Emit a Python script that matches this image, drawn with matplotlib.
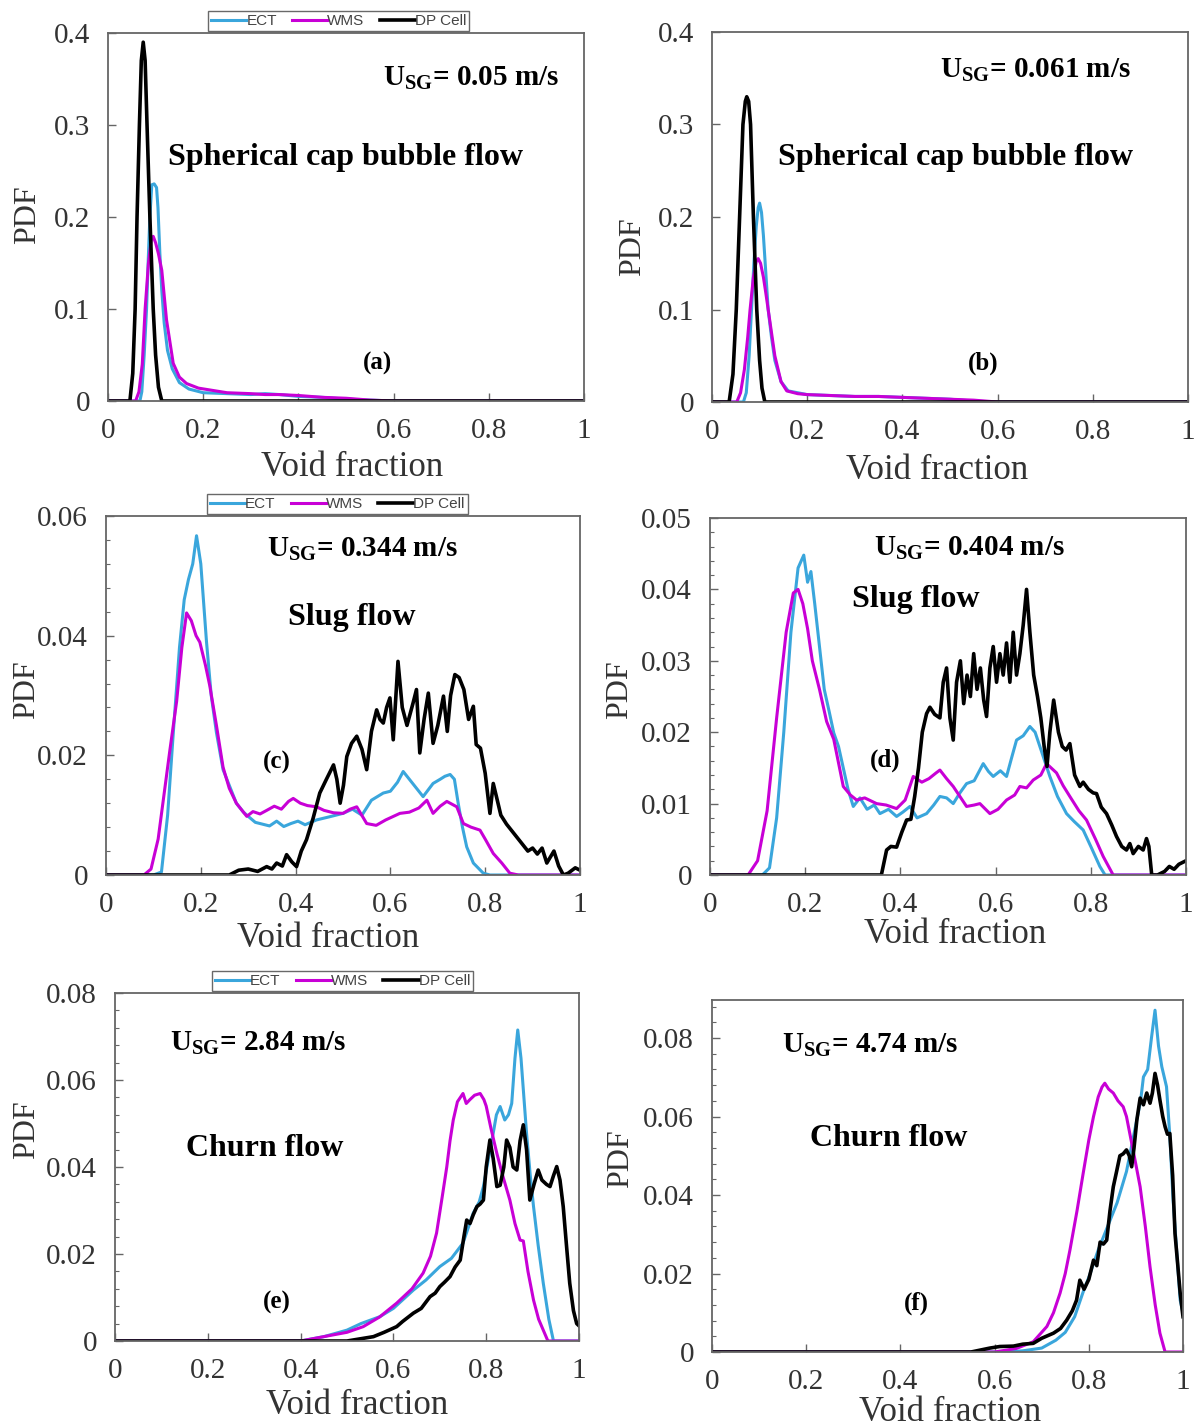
import numpy as np
import matplotlib
matplotlib.use('Agg')
import matplotlib.pyplot as plt
from matplotlib.ticker import MultipleLocator, FuncFormatter

plt.rcParams['font.family'] = ['Liberation Serif', 'DejaVu Serif']
plt.rcParams['mathtext.fontset'] = 'custom'
plt.rcParams['mathtext.rm'] = 'Liberation Serif'
plt.rcParams['mathtext.bf'] = 'Liberation Serif:bold'

# ---- data: void fraction (x) vs PDF (y) ----
series_names = ['ECT', 'WMS', 'DP Cell']
series_colors = ['#3aa6dc', '#c800d6', '#000000']

# (a) U_SG = 0.05 m/s
a_ect_x = [0, 0.067, 0.071, 0.076, 0.081, 0.085, 0.088, 0.092, 0.097, 0.102, 0.105, 0.109, 0.113, 0.118, 0.125, 0.135, 0.15, 0.17, 0.2, 0.25, 0.3, 0.33, 0.36, 0.4, 0.45, 0.5, 0.55, 0.6, 1.0]
a_ect_y = [0, 0, 0.01, 0.05, 0.1, 0.16, 0.2, 0.235, 0.236, 0.232, 0.21, 0.16, 0.12, 0.085, 0.055, 0.035, 0.02, 0.013, 0.009, 0.008, 0.007, 0.008, 0.007, 0.005, 0.004, 0.002, 0.001, 0, 0]
a_wms_x = [0, 0.058, 0.065, 0.072, 0.078, 0.085, 0.091, 0.095, 0.1, 0.106, 0.113, 0.123, 0.137, 0.15, 0.165, 0.19, 0.214, 0.25, 0.3, 0.33, 0.36, 0.4, 0.45, 0.5, 0.55, 0.6, 1.0]
a_wms_y = [0, 0, 0.01, 0.04, 0.1, 0.15, 0.175, 0.179, 0.172, 0.16, 0.142, 0.088, 0.041, 0.026, 0.019, 0.014, 0.012, 0.009, 0.008, 0.007, 0.007, 0.006, 0.004, 0.003, 0.001, 0, 0]
a_dp_x = [0, 0.046, 0.052, 0.057, 0.061, 0.066, 0.07, 0.074, 0.078, 0.082, 0.088, 0.095, 0.1, 0.106, 0.113, 1.0]
a_dp_y = [0, 0, 0.03, 0.1, 0.2, 0.3, 0.37, 0.39, 0.37, 0.3, 0.2, 0.1, 0.05, 0.015, 0, 0]

# (b) U_SG = 0.061 m/s
b_ect_x = [0, 0.066, 0.072, 0.078, 0.083, 0.088, 0.093, 0.097, 0.1, 0.104, 0.108, 0.113, 0.118, 0.125, 0.132, 0.145, 0.16, 0.2, 0.25, 0.3, 0.35, 0.4, 0.45, 0.5, 0.55, 0.6, 1.0]
b_ect_y = [0, 0, 0.01, 0.05, 0.1, 0.15, 0.19, 0.21, 0.215, 0.205, 0.18, 0.14, 0.1, 0.07, 0.045, 0.022, 0.012, 0.008, 0.007, 0.006, 0.006, 0.005, 0.004, 0.003, 0.001, 0, 1e-4]
b_wms_x = [0, 0.052, 0.06, 0.068, 0.075, 0.08, 0.087, 0.093, 0.097, 0.102, 0.108, 0.113, 0.118, 0.125, 0.132, 0.145, 0.157, 0.18, 0.2, 0.25, 0.3, 0.35, 0.4, 0.45, 0.5, 0.55, 0.6, 1.0]
b_wms_y = [0, 0, 0.01, 0.035, 0.07, 0.1, 0.135, 0.152, 0.155, 0.15, 0.135, 0.118, 0.1, 0.075, 0.05, 0.022, 0.012, 0.009, 0.008, 0.007, 0.006, 0.006, 0.005, 0.004, 0.003, 0.002, 0, 0]
b_dp_x = [0, 0.036, 0.044, 0.051, 0.058, 0.065, 0.07, 0.073, 0.077, 0.081, 0.087, 0.094, 0.1, 0.105, 0.111, 1.0]
b_dp_y = [0, 0, 0.03, 0.1, 0.2, 0.3, 0.325, 0.33, 0.325, 0.3, 0.2, 0.1, 0.045, 0.015, 0, 0]

# (c) U_SG = 0.344 m/s
c_ect_x = [0, 0.10, 0.117, 0.13, 0.142, 0.155, 0.165, 0.174, 0.183, 0.191, 0.2, 0.212, 0.222, 0.233, 0.247, 0.26, 0.275, 0.29, 0.30, 0.315, 0.33, 0.345, 0.36, 0.375, 0.39, 0.405, 0.42, 0.444, 0.47, 0.50, 0.52, 0.54, 0.56, 0.585, 0.60, 0.615, 0.627, 0.64, 0.655, 0.669, 0.69, 0.705, 0.715, 0.726, 0.735, 0.743, 0.752, 0.761, 0.775, 0.796, 0.81, 1.0]
c_ect_y = [0, 0, 0.0005, 0.01, 0.0238, 0.038, 0.046, 0.0494, 0.052, 0.0567, 0.052, 0.039, 0.030, 0.0238, 0.0176, 0.015, 0.012, 0.0105, 0.0098, 0.0088, 0.0085, 0.0082, 0.009, 0.0081, 0.0086, 0.009, 0.0084, 0.0092, 0.0097, 0.0103, 0.0110, 0.0100, 0.0125, 0.0137, 0.0140, 0.0155, 0.0173, 0.0160, 0.0145, 0.0131, 0.0153, 0.0160, 0.0165, 0.0168, 0.0160, 0.0120, 0.008, 0.0047, 0.002, 0.0003, 0, 0]
c_wms_x = [0, 0.08, 0.095, 0.11, 0.121, 0.135, 0.149, 0.16, 0.170, 0.18, 0.19, 0.198, 0.21, 0.219, 0.233, 0.247, 0.26, 0.275, 0.297, 0.31, 0.325, 0.339, 0.355, 0.37, 0.385, 0.395, 0.41, 0.425, 0.444, 0.46, 0.48, 0.50, 0.515, 0.529, 0.55, 0.57, 0.59, 0.62, 0.64, 0.66, 0.677, 0.69, 0.705, 0.719, 0.74, 0.754, 0.77, 0.789, 0.80, 0.817, 0.835, 0.852, 0.87, 1.0]
c_wms_y = [0, 0, 0.001, 0.006, 0.0126, 0.021, 0.029, 0.038, 0.0438, 0.0425, 0.040, 0.0389, 0.035, 0.0316, 0.025, 0.018, 0.0145, 0.012, 0.0098, 0.0106, 0.0102, 0.0108, 0.0115, 0.011, 0.0123, 0.0128, 0.012, 0.0116, 0.0114, 0.0108, 0.0104, 0.0103, 0.0110, 0.0114, 0.0086, 0.0083, 0.0092, 0.0103, 0.0105, 0.0112, 0.0125, 0.0103, 0.0115, 0.0123, 0.0114, 0.0086, 0.008, 0.0075, 0.006, 0.0036, 0.002, 0.0003, 0, 0]
c_dp_x = [0, 0.26, 0.28, 0.30, 0.32, 0.339, 0.35, 0.36, 0.372, 0.381, 0.392, 0.402, 0.412, 0.423, 0.437, 0.451, 0.465, 0.48, 0.487, 0.494, 0.501, 0.508, 0.518, 0.529, 0.54, 0.55, 0.56, 0.571, 0.578, 0.585, 0.592, 0.599, 0.606, 0.616, 0.625, 0.635, 0.648, 0.655, 0.662, 0.671, 0.68, 0.69, 0.70, 0.712, 0.72, 0.727, 0.736, 0.745, 0.755, 0.765, 0.775, 0.781, 0.79, 0.80, 0.81, 0.817, 0.824, 0.833, 0.845, 0.86, 0.875, 0.89, 0.90, 0.91, 0.92, 0.93, 0.945, 0.955, 0.965, 0.975, 0.99, 1.0]
c_dp_y = [0, 0, 0.0008, 0.001, 0.0006, 0.0014, 0.0010, 0.002, 0.0015, 0.0034, 0.0022, 0.0014, 0.004, 0.0059, 0.0095, 0.0137, 0.016, 0.0184, 0.016, 0.012, 0.015, 0.0198, 0.022, 0.0232, 0.021, 0.0176, 0.024, 0.0276, 0.026, 0.0254, 0.028, 0.0296, 0.0226, 0.0357, 0.028, 0.025, 0.0288, 0.031, 0.0204, 0.026, 0.0304, 0.022, 0.025, 0.0299, 0.024, 0.030, 0.0335, 0.033, 0.031, 0.026, 0.0282, 0.0218, 0.0212, 0.017, 0.0103, 0.0153, 0.013, 0.0100, 0.0085, 0.007, 0.0055, 0.004, 0.0045, 0.0035, 0.0045, 0.002, 0.004, 0.0015, 0.0, 0.0003, 0.0012, 0.0008]

# (d) U_SG = 0.404 m/s
d_ect_x = [0, 0.11, 0.125, 0.14, 0.155, 0.17, 0.185, 0.197, 0.205, 0.212, 0.22, 0.23, 0.24, 0.25, 0.26, 0.27, 0.28, 0.29, 0.301, 0.315, 0.33, 0.345, 0.357, 0.375, 0.392, 0.405, 0.42, 0.435, 0.455, 0.47, 0.483, 0.497, 0.511, 0.525, 0.539, 0.555, 0.574, 0.585, 0.595, 0.61, 0.623, 0.634, 0.644, 0.658, 0.672, 0.683, 0.693, 0.703, 0.714, 0.73, 0.749, 0.765, 0.784, 0.80, 0.819, 0.83, 1.0]
d_ect_y = [0, 0, 0.001, 0.008, 0.02, 0.034, 0.043, 0.0448, 0.041, 0.0425, 0.038, 0.032, 0.026, 0.023, 0.0199, 0.018, 0.015, 0.012, 0.0096, 0.0108, 0.0092, 0.0098, 0.0086, 0.0092, 0.0082, 0.0088, 0.0096, 0.0080, 0.0086, 0.0098, 0.011, 0.0108, 0.01, 0.0115, 0.0128, 0.0132, 0.0156, 0.0145, 0.0138, 0.0146, 0.0138, 0.0165, 0.0189, 0.0195, 0.0208, 0.020, 0.018, 0.016, 0.0138, 0.011, 0.0086, 0.0075, 0.0063, 0.004, 0.0012, 0, 0]
d_wms_x = [0, 0.08, 0.10, 0.12, 0.14, 0.16, 0.175, 0.185, 0.195, 0.205, 0.215, 0.23, 0.245, 0.26, 0.28, 0.295, 0.308, 0.325, 0.35, 0.37, 0.392, 0.41, 0.427, 0.445, 0.46, 0.475, 0.483, 0.497, 0.511, 0.525, 0.539, 0.555, 0.567, 0.588, 0.605, 0.623, 0.64, 0.651, 0.665, 0.679, 0.695, 0.707, 0.728, 0.742, 0.756, 0.775, 0.791, 0.81, 0.826, 0.847, 1.0]
d_wms_y = [0, 0, 0.002, 0.009, 0.022, 0.034, 0.0395, 0.040, 0.038, 0.0345, 0.030, 0.026, 0.0215, 0.019, 0.0124, 0.0112, 0.0105, 0.0108, 0.010, 0.0098, 0.0093, 0.0105, 0.0138, 0.0130, 0.0135, 0.0143, 0.0147, 0.0135, 0.0124, 0.011, 0.0096, 0.0098, 0.0100, 0.0086, 0.0092, 0.0105, 0.0112, 0.0124, 0.0122, 0.0133, 0.014, 0.0156, 0.0143, 0.0125, 0.011, 0.009, 0.0077, 0.005, 0.0026, 0, 0]
d_dp_x = [0, 0.36, 0.371, 0.38, 0.392, 0.403, 0.413, 0.422, 0.43, 0.438, 0.446, 0.455, 0.462, 0.472, 0.483, 0.49, 0.497, 0.504, 0.511, 0.518, 0.526, 0.533, 0.54, 0.547, 0.554, 0.561, 0.568, 0.575, 0.581, 0.588, 0.595, 0.602, 0.609, 0.616, 0.623, 0.63, 0.637, 0.644, 0.651, 0.658, 0.665, 0.672, 0.68, 0.688, 0.695, 0.702, 0.708, 0.714, 0.722, 0.732, 0.74, 0.748, 0.756, 0.766, 0.777, 0.784, 0.795, 0.805, 0.812, 0.822, 0.833, 0.844, 0.854, 0.865, 0.875, 0.882, 0.889, 0.9, 0.91, 0.917, 0.922, 0.928, 0.94, 0.955, 0.965, 0.975, 0.985, 1.0]
d_dp_y = [0, 0, 0.0035, 0.004, 0.0039, 0.006, 0.0077, 0.0078, 0.011, 0.015, 0.020, 0.0226, 0.0235, 0.0225, 0.022, 0.027, 0.029, 0.022, 0.0189, 0.027, 0.030, 0.024, 0.028, 0.025, 0.031, 0.026, 0.029, 0.0245, 0.0222, 0.029, 0.032, 0.027, 0.031, 0.028, 0.0325, 0.027, 0.034, 0.028, 0.031, 0.035, 0.040, 0.034, 0.028, 0.025, 0.022, 0.018, 0.0152, 0.020, 0.0245, 0.020, 0.018, 0.0175, 0.0184, 0.014, 0.0124, 0.013, 0.012, 0.0115, 0.0114, 0.0095, 0.0086, 0.007, 0.0054, 0.004, 0.0035, 0.0044, 0.003, 0.004, 0.0035, 0.0051, 0.004, 0, 0, 0.0005, 0.0012, 0.0008, 0.0015, 0.002]

# (e) U_SG = 2.84 m/s
e_ect_x = [0, 0.40, 0.45, 0.50, 0.53, 0.571, 0.60, 0.643, 0.67, 0.70, 0.725, 0.75, 0.772, 0.785, 0.794, 0.805, 0.815, 0.822, 0.830, 0.84, 0.848, 0.855, 0.862, 0.868, 0.875, 0.887, 0.895, 0.902, 0.912, 0.923, 0.935, 0.945, 1.0]
e_ect_y = [0, 0, 0.001, 0.0025, 0.004, 0.0056, 0.0075, 0.0117, 0.014, 0.0171, 0.019, 0.0225, 0.0294, 0.032, 0.0355, 0.042, 0.0477, 0.052, 0.0539, 0.0508, 0.052, 0.0546, 0.065, 0.0715, 0.065, 0.0477, 0.038, 0.0309, 0.022, 0.0133, 0.005, 0.0, 0]
e_wms_x = [0, 0.40, 0.45, 0.5, 0.535, 0.57, 0.607, 0.64, 0.664, 0.68, 0.693, 0.705, 0.715, 0.722, 0.729, 0.738, 0.75, 0.757, 0.765, 0.775, 0.787, 0.795, 0.80, 0.81, 0.823, 0.837, 0.851, 0.862, 0.873, 0.88, 0.89, 0.902, 0.913, 0.923, 0.933, 1.0]
e_wms_y = [0, 0, 0.001, 0.002, 0.0033, 0.0055, 0.0087, 0.012, 0.0156, 0.0195, 0.0248, 0.033, 0.040, 0.046, 0.0508, 0.055, 0.0569, 0.0546, 0.0555, 0.0565, 0.0569, 0.0555, 0.054, 0.049, 0.0431, 0.0375, 0.0324, 0.027, 0.0232, 0.023, 0.016, 0.0094, 0.005, 0.0025, 0, 0]
e_dp_x = [0, 0.50, 0.557, 0.58, 0.607, 0.62, 0.643, 0.66, 0.679, 0.69, 0.70, 0.71, 0.722, 0.733, 0.744, 0.752, 0.758, 0.765, 0.772, 0.78, 0.787, 0.794, 0.80, 0.808, 0.815, 0.823, 0.83, 0.838, 0.844, 0.851, 0.858, 0.866, 0.873, 0.88, 0.887, 0.894, 0.903, 0.912, 0.92, 0.93, 0.9375, 0.945, 0.952, 0.959, 0.966, 0.973, 0.98, 0.988, 0.995, 1.0]
e_dp_y = [0, 0, 0.001, 0.002, 0.0033, 0.0045, 0.0064, 0.0075, 0.0102, 0.011, 0.0125, 0.0135, 0.0148, 0.017, 0.0186, 0.024, 0.0278, 0.027, 0.029, 0.0309, 0.0315, 0.0324, 0.040, 0.0462, 0.042, 0.0355, 0.0358, 0.040, 0.0462, 0.0445, 0.040, 0.0393, 0.046, 0.0497, 0.044, 0.0324, 0.036, 0.0393, 0.037, 0.036, 0.0355, 0.038, 0.0401, 0.037, 0.0309, 0.022, 0.0133, 0.007, 0.004, 0.0035]

# (f) U_SG = 4.74 m/s
f_ect_x = [0, 0.62, 0.66, 0.70, 0.73, 0.75, 0.77, 0.79, 0.80, 0.82, 0.84, 0.86, 0.88, 0.89, 0.90, 0.91, 0.916, 0.925, 0.933, 0.9406, 0.948, 0.955, 0.965, 0.972, 0.979, 0.987, 0.994, 1.0]
f_ect_y = [0, 0, 0.0003, 0.001, 0.003, 0.005, 0.009, 0.016, 0.019, 0.026, 0.032, 0.038, 0.046, 0.052, 0.058, 0.064, 0.0701, 0.072, 0.080, 0.0871, 0.078, 0.0727, 0.0676, 0.055, 0.0387, 0.025, 0.0132, 0.01]
f_wms_x = [0, 0.60, 0.646, 0.682, 0.711, 0.725, 0.739, 0.75, 0.76, 0.775, 0.788, 0.80, 0.81, 0.82, 0.828, 0.834, 0.842, 0.852, 0.862, 0.873, 0.88, 0.887, 0.898, 0.909, 0.92, 0.93, 0.941, 0.951, 0.962, 1.0]
f_wms_y = [0, 0, 0.0009, 0.0026, 0.0065, 0.010, 0.015, 0.020, 0.026, 0.036, 0.0455, 0.054, 0.060, 0.065, 0.0675, 0.0685, 0.067, 0.066, 0.064, 0.0625, 0.060, 0.0557, 0.049, 0.0421, 0.032, 0.0217, 0.012, 0.0048, 0, 0]
f_dp_x = [0, 0.55, 0.59, 0.611, 0.64, 0.66, 0.682, 0.70, 0.725, 0.74, 0.753, 0.765, 0.774, 0.781, 0.79, 0.80, 0.81, 0.817, 0.824, 0.831, 0.838, 0.845, 0.852, 0.859, 0.866, 0.873, 0.88, 0.886, 0.891, 0.896, 0.902, 0.909, 0.916, 0.923, 0.93, 0.935, 0.9406, 0.946, 0.951, 0.957, 0.962, 0.967, 0.972, 0.978, 0.983, 0.989, 0.994, 1.0]
f_dp_y = [0, 0, 0.001, 0.0014, 0.0015, 0.002, 0.0022, 0.0035, 0.0048, 0.006, 0.0081, 0.0105, 0.0132, 0.0183, 0.016, 0.0185, 0.0234, 0.022, 0.028, 0.0275, 0.0285, 0.036, 0.0421, 0.046, 0.050, 0.0505, 0.0515, 0.050, 0.0472, 0.052, 0.0591, 0.0647, 0.063, 0.066, 0.0634, 0.066, 0.071, 0.068, 0.0642, 0.060, 0.0574, 0.0555, 0.0557, 0.045, 0.0302, 0.022, 0.015, 0.009]

x_ticks = [0, 0.2, 0.4, 0.6, 0.8, 1.0]

panels = [
    # box in pixels: left, top, right, bottom
    dict(data=[(a_ect_x, a_ect_y), (a_wms_x, a_wms_y), (a_dp_x, a_dp_y)],
         ylim=0.4, major=0.1, minor=None, box=(108, 33, 584, 401), legend=0.485,
         usg='0.05', flow='Spherical cap bubble flow', tag='(a)',
         usg_xy=(471, 78), flow_xy=(345, 157), tag_xy=(377, 363),
         ylab=(-0.17, 0.505), xlab=(0.513, -0.182)),
    dict(data=[(b_ect_x, b_ect_y), (b_wms_x, b_wms_y), (b_dp_x, b_dp_y)],
         ylim=0.4, major=0.1, minor=None, box=(712, 32, 1188, 402), legend=None,
         usg='0.061', flow='Spherical cap bubble flow', tag='(b)',
         usg_xy=(1035, 70), flow_xy=(955, 157), tag_xy=(983, 363),
         ylab=(-0.166, 0.42), xlab=(0.473, -0.184)),
    dict(data=[(c_ect_x, c_ect_y), (c_wms_x, c_wms_y), (c_dp_x, c_dp_y)],
         ylim=0.06, major=0.02, minor=0.004, box=(106, 516, 580, 875), legend=0.488,
         usg='0.344', flow='Slug flow', tag='(c)',
         usg_xy=(362, 549), flow_xy=(352, 618), tag_xy=(277, 762),
         ylab=(-0.167, 0.517), xlab=(0.468, -0.176)),
    dict(data=[(d_ect_x, d_ect_y), (d_wms_x, d_wms_y), (d_dp_x, d_dp_y)],
         ylim=0.05, major=0.01, minor=0.002, box=(710, 518, 1186, 875), legend=None,
         usg='0.404', flow='Slug flow', tag='(d)',
         usg_xy=(969, 548), flow_xy=(916, 599), tag_xy=(885, 760),
         ylab=(-0.189, 0.518), xlab=(0.515, -0.168)),
    dict(data=[(e_ect_x, e_ect_y), (e_wms_x, e_wms_y), (e_dp_x, e_dp_y)],
         ylim=0.08, major=0.02, minor=0.004, box=(115, 993, 579, 1341), legend=0.49,
         usg='2.84', flow='Churn flow', tag='(e)',
         usg_xy=(258, 1043), flow_xy=(265, 1148), tag_xy=(277, 1302),
         ylab=(-0.19, 0.606), xlab=(0.522, -0.184)),
    dict(data=[(f_ect_x, f_ect_y), (f_wms_x, f_wms_y), (f_dp_x, f_dp_y)],
         ylim=0.0897, major=0.02, minor=0.004, box=(712, 1000, 1183, 1352), legend=None,
         usg='4.74', flow='Churn flow', tag='(f)',
         usg_xy=(870, 1045), flow_xy=(889, 1138), tag_xy=(916, 1303),
         ylab=(-0.195, 0.55), xlab=(0.505, -0.173)),
]

W, H = 1199, 1428
fig = plt.figure(figsize=(W / 100, H / 100), dpi=100)


def fmt(v, pos):
    return ('%.2f' % v).rstrip('0').rstrip('.')


for p in panels:
    l, t, r, b = p['box']
    ax = fig.add_axes([l / W, 1 - b / H, (r - l) / W, (b - t) / H])
    for (xs, ys), name, col in zip(p['data'], series_names, series_colors):
        lw = 2.6 if name == 'DP Cell' else 2.2
        ax.plot(xs, ys, color=col, lw=lw, label=name, solid_joinstyle='round')
    ax.set_xlim(0, 1)
    ax.set_ylim(0, p['ylim'])
    ax.set_xticks(x_ticks)
    ax.yaxis.set_major_locator(MultipleLocator(p['major']))
    if p['minor']:
        ax.yaxis.set_minor_locator(MultipleLocator(p['minor']))
    ax.xaxis.set_major_formatter(FuncFormatter(fmt))
    ax.yaxis.set_major_formatter(FuncFormatter(fmt))
    ax.tick_params(which='major', direction='in', length=6, width=1, color='#666',
                   labelsize=21, labelcolor='#333')
    ax.tick_params(axis='x', pad=12)
    ax.tick_params(axis='y', pad=13)
    ax.tick_params(which='minor', direction='in', length=3, width=0.8, color='#666')
    for s in ax.spines.values():
        s.set_color('#666')
        s.set_linewidth(1.3)

    ax.set_xlabel('Void fraction', fontsize=25, color='#333')
    ax.set_ylabel('PDF', fontsize=23, color='#333')
    ax.xaxis.label.set_va('center')
    ax.yaxis.label.set_va('center')
    ax.xaxis.set_label_coords(*p['xlab'])
    ax.yaxis.set_label_coords(*p['ylab'])

    if p['legend'] is not None:
        leg = ax.legend(loc='lower center', bbox_to_anchor=(p['legend'], 1.0), ncol=3,
                        frameon=True, fancybox=False, borderpad=0.2, handlelength=2.3,
                        handletextpad=0.0, columnspacing=1.0, borderaxespad=0.1,
                        prop={'family': 'Liberation Sans', 'size': 11})
        leg.get_frame().set_edgecolor('#444')
        leg.get_frame().set_linewidth(1.0)
        for tx in leg.get_texts():
            tx.set_color('#444')

    ux, uy = p['usg_xy']
    fig.text(ux / W, 1 - uy / H, r'$\mathbf{U_{SG}}$' + '= ' + p['usg'] + ' m/s',
             fontsize=21, fontweight='bold', ha='center', va='center')
    fx, fy = p['flow_xy']
    fig.text(fx / W, 1 - fy / H, p['flow'], fontsize=23, fontweight='bold',
             ha='center', va='center')
    tx_, ty_ = p['tag_xy']
    fig.text(tx_ / W, 1 - ty_ / H, p['tag'], fontsize=18, fontweight='bold',
             ha='center', va='center')

fig.savefig('out.png', dpi=100)
